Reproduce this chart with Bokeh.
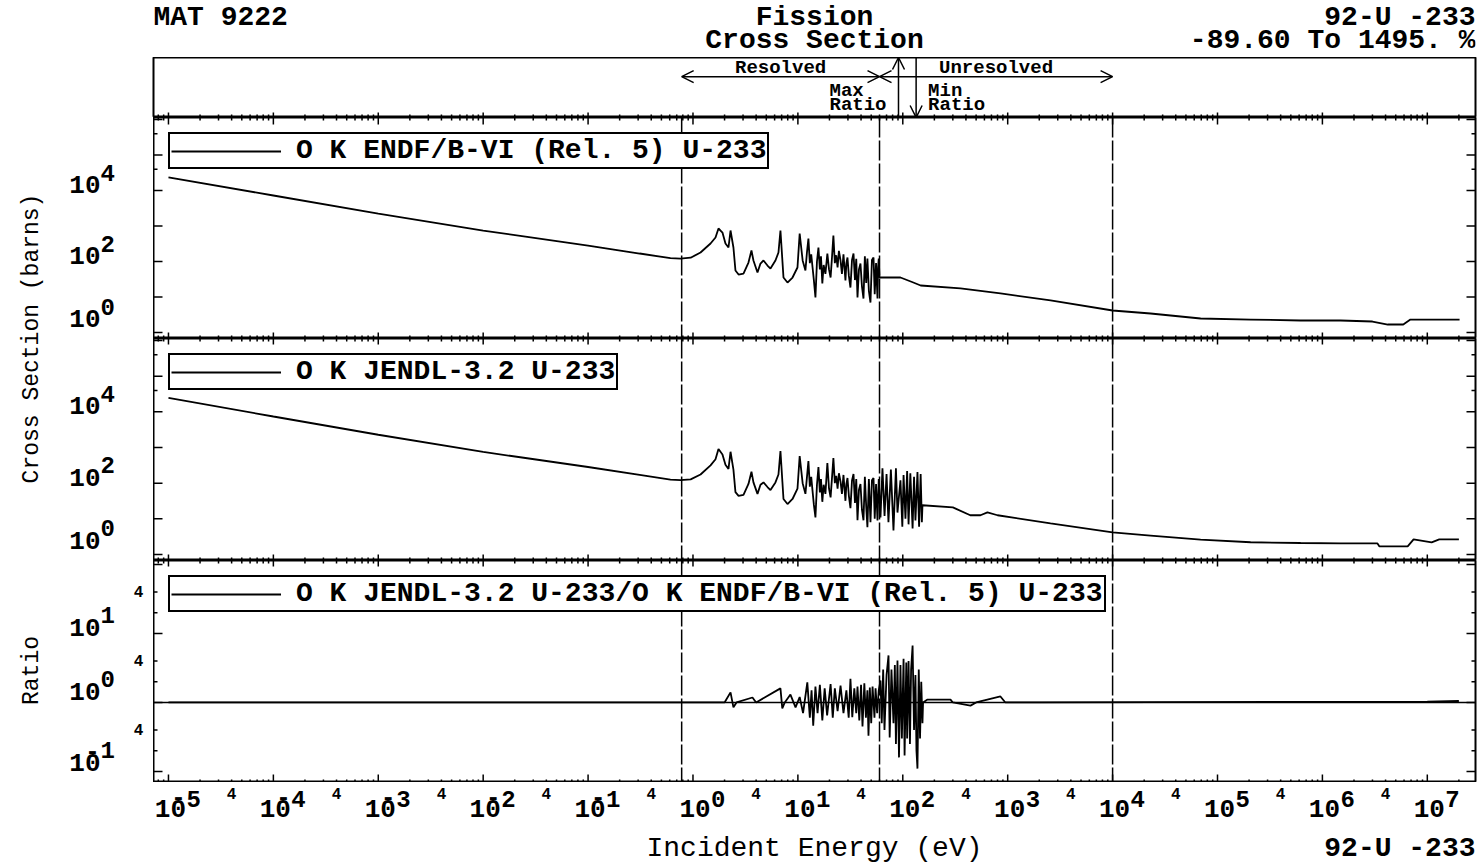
import math
from bokeh.plotting import figure
from bokeh.layouts import column, row
from bokeh.models import (Range1d, Span, Label, Legend, LegendItem, Arrow, OpenHead)
from bokeh.embed import file_html
from bokeh.resources import INLINE

# ---------------- data ----------------
energy_endf = [1.0e-5, 1.0e-4, 1.0e-3, 1.0e-2, 2.53e-2, 0.1, 0.31, 0.61, 0.76, 0.95,
               1.18, 1.47, 1.64, 1.75, 1.91, 2.04, 2.18, 2.28, 2.43, 2.54,
               2.72, 3.03, 3.38, 3.61, 3.77, 4.12, 4.40, 4.70, 5.13, 5.48,
               6.11, 6.53, 6.82, 7.29, 7.96, 8.89, 9.91, 10.4, 11.1, 11.8,
               12.2, 12.6, 13.0, 13.4, 13.8, 14.2, 14.7, 15.2, 15.7, 16.2,
               16.6, 17.1, 17.6, 18.3, 19.1, 19.8, 20.5, 21.1, 21.8, 22.5,
               23.2, 23.9, 24.6, 25.5, 26.3, 27.2, 28.4, 29.0, 29.7, 30.6,
               31.7, 32.8, 33.9, 35.0, 36.0, 37.0, 38.2, 39.5, 40.8, 42.2,
               43.5, 44.8, 46.0, 47.5, 49.2, 50.8, 52.6, 54.0, 55.6, 57.4,
               58.2, 59.0, 60.0, 95.0, 126.0, 148.0, 355.0, 853.0, 2560.0, 1.0e4,
               2.3e4, 6.9e4, 2.07e5, 6.2e5, 1.49e6, 3.0e6, 4.2e6, 5.9e6, 6.9e6, 2.03e7]
xs_endf = [23300, 7240, 2240, 745, 505, 282, 168, 124, 121, 128,
           179, 321, 474, 851, 656, 321, 248, 747, 248, 55.7,
           43.0, 45.9, 93.7, 204, 107, 49.0, 87.8, 107, 77.1, 63.5,
           107, 179, 747, 35.4, 25.6, 35.4, 67.8, 615, 107, 55.7,
           180, 444, 90, 160, 67.8, 30, 9.68, 100, 248, 60,
           140, 24.0, 80, 45, 168, 60, 35.4, 120, 540, 90,
           150, 67.8, 200, 107, 45, 160, 29.2, 90, 130, 40,
           18.5, 110, 168, 30, 120, 9.68, 60, 87.8, 20, 9.07,
           140, 25, 122, 15, 7.0, 110, 130, 12, 90, 9.07,
           70, 122, 35.4, 35.4, 25.6, 21.1, 17.4, 12.6, 8.0, 4.17,
           3.43, 2.48, 2.32, 2.18, 2.18, 2.04, 1.68, 1.68, 2.32, 2.32]

energy_jendl = [1.0e-5, 1.0e-4, 1.0e-3, 1.0e-2, 2.53e-2, 0.1, 0.31, 0.61, 0.76, 0.95,
                1.18, 1.47, 1.64, 1.75, 1.91, 2.04, 2.18, 2.28, 2.43, 2.54,
                2.72, 3.03, 3.38, 3.61, 3.77, 4.12, 4.40, 4.70, 5.13, 5.48,
                6.11, 6.53, 6.82, 7.29, 7.96, 8.89, 9.91, 10.4, 11.1, 11.8,
                12.6, 13.0, 13.4, 13.8, 14.2, 14.7, 15.2, 15.7, 16.2, 16.6,
                17.1, 17.6, 18.3, 19.1, 19.8, 20.5, 21.1, 21.8, 22.5, 23.2,
                23.9, 24.6, 25.5, 26.3, 27.2, 28.4, 29.0, 29.7, 30.6, 31.7,
                32.8, 33.9, 35.0, 36.0, 37.0, 38.2, 39.5, 40.8, 42.2, 43.5,
                44.8, 46.0, 47.5, 49.2, 50.8, 52.6, 54.0, 55.6, 57.4, 59.0,
                61.3, 64.0, 67.0, 70.0, 73.0, 77.0, 81.5, 86.0, 89.0, 95.0,
                99.0, 101.7, 106.0, 110.0, 113.5, 118.0, 124.0, 128.0, 132.0, 138.0,
                143.0, 148.0, 152.0, 154.0, 300.0, 440.0, 550.0, 641.0, 800.0, 2560.0,
                1.0e4, 2.3e4, 6.9e4, 2.07e5, 6.2e5, 1.49e6, 3.35e6, 3.5e6, 6.5e6, 7.4e6,
                1.1e7, 1.3e7, 2.0e7]
xs_jendl = [24700, 7400, 2280, 750, 508, 284, 170, 125, 121, 128,
            175, 315, 470, 907, 640, 330, 250, 760, 240, 56,
            44, 47, 95, 210, 105, 50, 90, 105, 78, 64,
            105, 175, 800, 36, 26, 36, 70, 575, 100, 50,
            415, 80, 150, 60, 25, 11, 90, 282, 55, 130,
            30, 90, 50, 367, 70, 40, 130, 505, 100, 160,
            70, 190, 110, 50, 170, 32, 95, 140, 45, 20,
            120, 180, 28, 130, 9.1, 65, 95, 18, 9.1, 150,
            22, 5.8, 130, 8, 120, 140, 10, 95, 9, 130,
            11, 262, 12, 180, 8, 240, 4.74, 262, 15, 120,
            6, 168, 10, 220, 7, 190, 5.4, 150, 9, 204,
            6, 180, 8, 24, 21, 12.6, 12.6, 15.2, 12.6, 7.5,
            4.17, 3.4, 2.6, 2.2, 2.1, 2.04, 2.04, 1.68, 1.68, 2.64,
            2.18, 2.64, 2.64]

energy_ratio = [1.0e-5, 0.76, 2.0, 2.28, 2.43, 2.6, 3.69, 4.0, 6.82, 7.1,
                7.5, 8.49, 9.5, 10.4, 11.2, 12.3, 13.0, 13.5, 14.0, 14.7,
                15.4, 16.2, 17.1, 18.0, 19.0, 20.5, 21.5, 22.5, 23.9, 25.5,
                27.2, 29.0, 30.5, 31.7, 33.0, 34.5, 36.0, 37.0, 38.5, 40.0,
                41.3, 43.0, 44.5, 46.0, 47.1, 48.5, 50.0, 51.5, 53.7, 55.0,
                57.0, 59.0, 61.3, 63.0, 65.0, 66.9, 70.0, 73.1, 75.0, 78.0,
                81.5, 84.0, 86.0, 89.0, 92.0, 95.0, 98.0, 101.7, 104.0, 108.0,
                110.0, 113.5, 117.0, 120.0, 124.0, 128.0, 132.0, 135.0, 138.0, 142.0,
                146.0, 150.0, 154.0, 156.0, 172.0, 285.0, 300.0, 442.0, 500.0, 853.0,
                950.0, 2000.0, 1.0e7, 2.0e7]
ratio = [1.0, 1.0, 1.0, 1.40, 0.85, 1.0, 1.18, 1.0, 1.6, 0.82,
         1.0, 1.3, 0.85, 1.2, 0.7, 1.95, 0.6, 1.5, 0.46, 1.7,
         0.7, 1.8, 0.55, 1.6, 0.65, 1.85, 0.6, 1.6, 0.75, 1.75,
         0.7, 1.5, 0.6, 2.2, 0.61, 1.6, 0.7, 1.7, 0.55, 1.8,
         0.45, 1.9, 0.6, 1.5, 0.33, 1.65, 0.5, 1.7, 0.6, 1.6,
         0.7, 1.5, 2.08, 0.5, 3.0, 0.4, 2.5, 4.8, 0.31, 3.0,
         0.5, 3.5, 0.25, 4.06, 0.16, 3.5, 0.3, 4.3, 0.17, 3.8,
         0.3, 4.0, 0.25, 3.0, 6.7, 0.4, 2.5, 0.2, 0.11, 3.0,
         0.3, 2.0, 0.5, 1.0, 1.1, 1.1, 1.0, 0.9, 1.0, 1.22,
         1.0, 1.0, 1.03, 1.05]

region_bounds = [0.78, 60.0, 1.0e4]      # eV: resolved / unresolved boundaries
max_ratio_energy = 91.0                   # eV
min_ratio_energy = 134.0                  # eV

x_decades = list(range(-5, 8))
xs_decades = list(range(0, 7))
ratio_decades = [-1, 0, 1, 2]

legend_labels = ["O K ENDF/B-VI (Rel. 5) U-233",
                 "O K JENDL-3.2 U-233",
                 "O K JENDL-3.2 U-233/O K ENDF/B-VI (Rel. 5) U-233"]

# ---------------- layout constants ----------------
FONT = "Liberation Mono"
LEFT_W = 58                     # vertical axis titles
RIGHT_W = 1477 - LEFT_W         # everything else
YLAB_W = 95                     # tick-label strip left of the frames
BORDER_R = 2
PANEL_W = RIGHT_W - YLAB_W
FRAME_W = PANEL_W - BORDER_R
X_RANGE = (7.2e-6, 2.88e7)
XS_RANGE = (0.678, 1.14e6)
RATIO_RANGE = (0.0692, 114.0)


def in_range(vals, rng):
    return [v for v in vals if rng[0] < v < rng[1]]


x_major = in_range([10.0 ** n for n in x_decades], X_RANGE)
x_minor = in_range([m * 10.0 ** n for n in range(-6, 8) for m in range(2, 10)], X_RANGE)
xs_major = in_range([10.0 ** n for n in xs_decades], XS_RANGE)
xs_minor = [4.0e4, 4.0e5]
ratio_major = in_range([10.0 ** n for n in ratio_decades], RATIO_RANGE)
ratio_minor = [m * 10.0 ** n for n in (-1, 0, 1) for m in (2, 4)]


def plain_fig(width, height, x_range, y_range, x_type="linear", y_type="linear", **borders):
    b = dict(min_border_left=0, min_border_right=0, min_border_top=0, min_border_bottom=0)
    b.update(borders)
    p = figure(width=width, height=height, x_axis_type=x_type, y_axis_type=y_type,
               x_range=x_range, y_range=y_range,
               x_axis_location=None, y_axis_location=None,
               toolbar_location=None, output_backend="svg", **b)
    p.outline_line_color = None
    p.grid.visible = False
    p.background_fill_color = "white"
    p.border_fill_color = "white"
    return p


def panel_fig(width, height, y_range, y_type, **borders):
    p = plain_fig(width, height, Range1d(*X_RANGE), y_range, "log", y_type, **borders)
    p.outline_line_color = "black"
    p.outline_line_width = 2
    p.outline_line_alpha = 1.0
    return p


def x_edge_ticks(p, y_edge, major_len, minor_len):
    # tick marks centred on the frame edge; the frame clips them to the inside half
    p.scatter(x_major, [y_edge] * len(x_major), marker="dash", size=2 * major_len,
              angle=math.pi / 2, line_color="black", line_width=1.5)
    p.scatter(x_minor, [y_edge] * len(x_minor), marker="dash", size=2 * minor_len,
              angle=math.pi / 2, line_color="black", line_width=1.5)


def y_edge_ticks(p, majors, minors, major_len, minor_len):
    for x_edge in X_RANGE:
        p.scatter([x_edge] * len(majors), majors, marker="dash", size=2 * major_len,
                  line_color="black", line_width=1.5)
        p.scatter([x_edge] * len(minors), minors, marker="dash", size=2 * minor_len,
                  line_color="black", line_width=1.5)


def lab(p, text, x, y, xu="screen", yu="screen", size="27px", align="left",
        baseline="middle", style="normal", angle=0, xo=0, yo=0):
    p.add_layout(Label(text=text, x=x, y=y, x_units=xu, y_units=yu,
                       text_font=FONT, text_font_size=size, text_font_style=style,
                       text_align=align, text_baseline=baseline, text_color="black",
                       angle=angle, angle_units="deg", x_offset=xo, y_offset=yo))


def add_regions(p):
    for b in region_bounds:
        p.add_layout(Span(location=b, dimension="height", line_color="black",
                          line_width=1.5, line_dash="20 3"))


def add_legend(p, r, text):
    leg = Legend(items=[LegendItem(label=text, renderers=[r])], location="top_left",
                 margin=15, padding=1, spacing=0, glyph_width=110, glyph_height=20,
                 label_standoff=15, label_height=20, label_text_font=FONT,
                 label_text_font_size="28px", label_text_font_style="bold",
                 label_text_color="black",
                 border_line_color="black", border_line_width=2, border_line_alpha=1.0,
                 background_fill_color="white", background_fill_alpha=1.0)
    p.add_layout(leg)


def ylab_fig(height, rng, shown, offsets, fours=()):
    f = plain_fig(YLAB_W, height, Range1d(0, 1), Range1d(*rng), y_type="log")
    for n, off in zip(shown, offsets):
        v = 10.0 ** n
        lab(f, "10", 42, v, yu="data", size="26px", align="right", style="bold", yo=off)
        lab(f, str(abs(n)), 42, v, yu="data", size="24px", align="left", style="bold", yo=off + 12)
        if n < 0:
            lab(f, "-", 34, v, yu="data", size="24px", align="center", style="bold", yo=off + 11)
    for v in fours:
        lab(f, "4", 80, v, yu="data", size="16px", align="center", style="bold")
    return f


# ---------------- left strip with vertical axis titles ----------------
left = plain_fig(LEFT_W, 864, Range1d(0, 1), Range1d(0, 1))
lab(left, "Cross Section (barns)", 31, 526, size="23px", align="center", angle=90)
lab(left, "Ratio", 31, 194, size="23px", align="center", angle=90)

# ---------------- header texts ----------------
header = plain_fig(RIGHT_W, 57, Range1d(0, 1), Range1d(0, 1),
                   min_border_left=YLAB_W, min_border_right=BORDER_R)
lab(header, "MAT 9222", 0, 40, size="28px", style="bold")
lab(header, "Fission", FRAME_W / 2, 40, size="28px", align="center", style="bold")
lab(header, "Cross Section", FRAME_W / 2, 17, size="28px", align="center", style="bold")
lab(header, "92-U -233", FRAME_W, 40, size="28px", align="right", style="bold")
lab(header, "-89.60 To 1495. %", FRAME_W, 17, size="28px", align="right", style="bold")

# ---------------- resolved / unresolved strip ----------------
strip = panel_fig(RIGHT_W, 60, Range1d(0, 1), "linear",
                  min_border_left=YLAB_W, min_border_right=BORDER_R)
x_edge_ticks(strip, 0.0, 5, 3)
head = dict(size=12, line_width=1.5, line_color="black")
strip.add_layout(Arrow(start=OpenHead(**head), end=OpenHead(**head),
                       x_start=region_bounds[0], x_end=region_bounds[1],
                       y_start=0.68, y_end=0.68, line_width=1.5, line_color="black"))
strip.add_layout(Arrow(start=OpenHead(**head), end=OpenHead(**head),
                       x_start=region_bounds[1], x_end=region_bounds[2],
                       y_start=0.68, y_end=0.68, line_width=1.5, line_color="black"))
strip.add_layout(Arrow(end=OpenHead(**head), x_start=max_ratio_energy, x_end=max_ratio_energy,
                       y_start=0.0, y_end=1.0, line_width=1.5, line_color="black"))
strip.add_layout(Arrow(end=OpenHead(**head), x_start=min_ratio_energy, x_end=min_ratio_energy,
                       y_start=1.0, y_end=0.0, line_width=1.5, line_color="black"))
small = 19
cw = 0.6 * small
lab(strip, "Resolved", math.sqrt(region_bounds[0] * region_bounds[1]), 0.82, xu="data", yu="data",
    size=f"{small}px", align="center", style="bold")
lab(strip, "Unresolved", math.sqrt(region_bounds[1] * region_bounds[2]), 0.82, xu="data", yu="data",
    size=f"{small}px", align="center", style="bold")
lab(strip, "Max", max_ratio_energy, 0.45, xu="data", yu="data", size=f"{small}px",
    align="left", style="bold", xo=-12 - 5 * cw)
lab(strip, "Ratio", max_ratio_energy, 0.21, xu="data", yu="data", size=f"{small}px",
    align="right", style="bold", xo=-12)
lab(strip, "Min", min_ratio_energy, 0.45, xu="data", yu="data", size=f"{small}px",
    align="left", style="bold", xo=12)
lab(strip, "Ratio", min_ratio_energy, 0.21, xu="data", yu="data", size=f"{small}px",
    align="left", style="bold", xo=12)

# ---------------- panel 1: ENDF/B-VI ----------------
p1 = panel_fig(PANEL_W, 221, Range1d(*XS_RANGE), "log", min_border_right=BORDER_R)
x_edge_ticks(p1, XS_RANGE[1], 7, 3)
x_edge_ticks(p1, XS_RANGE[0], 6, 3)
y_edge_ticks(p1, xs_major, xs_minor, 9, 4)
add_regions(p1)
r1 = p1.line(energy_endf, xs_endf, line_color="black", line_width=1.8)
add_legend(p1, r1, legend_labels[0])
yl1 = ylab_fig(221, XS_RANGE, (0, 2, 4), (14, 6, 6))

# ---------------- panel 2: JENDL-3.2 ----------------
p2 = panel_fig(PANEL_W, 222, Range1d(*XS_RANGE), "log", min_border_right=BORDER_R)
x_edge_ticks(p2, XS_RANGE[1], 6, 3)
x_edge_ticks(p2, XS_RANGE[0], 6, 3)
y_edge_ticks(p2, xs_major, xs_minor, 9, 4)
add_regions(p2)
r2 = p2.line(energy_jendl, xs_jendl, line_color="black", line_width=1.8)
add_legend(p2, r2, legend_labels[1])
yl2 = ylab_fig(222, XS_RANGE, (0, 2, 4), (14, 6, 6))

# ---------------- panel 3: ratio ----------------
p3 = panel_fig(PANEL_W, 222, Range1d(*RATIO_RANGE), "log", min_border_right=BORDER_R)
x_edge_ticks(p3, RATIO_RANGE[1], 6, 3)
x_edge_ticks(p3, RATIO_RANGE[0], 8, 3)
y_edge_ticks(p3, ratio_major, ratio_minor, 9, 4)
add_regions(p3)
p3.add_layout(Span(location=1.0, dimension="width", line_color="black", line_width=1.5))
r3 = p3.line(energy_ratio, ratio, line_color="black", line_width=1.8)
add_legend(p3, r3, legend_labels[2])
yl3 = ylab_fig(222, RATIO_RANGE, (-1, 0, 1), (9, 11, 6),
               fours=[4 * 10.0 ** n for n in (-1, 0, 1)])

# ---------------- x tick labels and axis title ----------------
xlab = plain_fig(RIGHT_W, 82, Range1d(*X_RANGE), Range1d(0, 1), x_type="log",
                 min_border_left=YLAB_W, min_border_right=BORDER_R)
for n in x_decades:
    v = 10.0 ** n
    lab(xlab, "10", v, 56, xu="data", size="26px", align="center", style="bold", xo=2)
    lab(xlab, str(abs(n)), v, 66, xu="data", size="24px", align="left", style="bold", xo=18)
    if n < 0:
        lab(xlab, "-", v, 68, xu="data", size="24px", align="center", style="bold", xo=10)
    if n < 7:
        lab(xlab, "4", 4 * v, 71, xu="data", size="16px", align="center", style="bold")
lab(xlab, "Incident Energy (eV)", FRAME_W / 2, 16, size="28px", align="center")
lab(xlab, "92-U -233", FRAME_W, 16, size="28px", align="right", style="bold")

right = column(header, strip, row(yl1, p1, spacing=0), row(yl2, p2, spacing=0),
               row(yl3, p3, spacing=0), xlab, spacing=0)
layout = row(left, right, spacing=0)
open("out.html", "w").write(file_html(layout, INLINE))
